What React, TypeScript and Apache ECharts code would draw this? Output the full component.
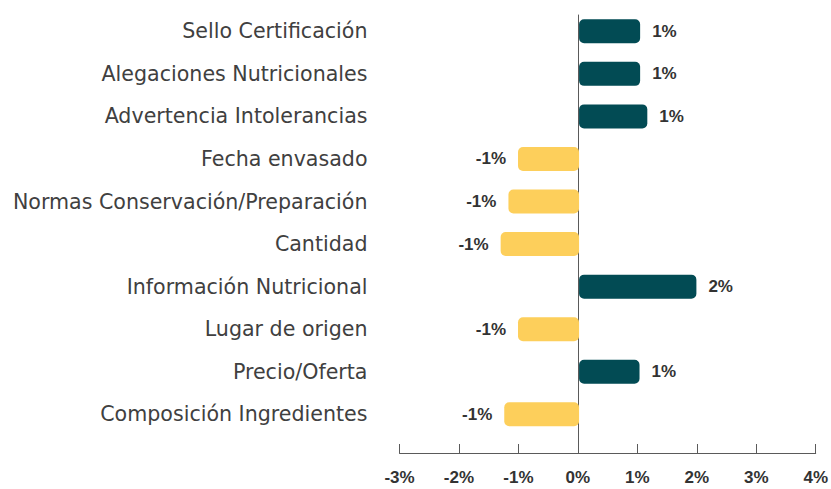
import React, { useEffect, useRef } from "react";
import * as echarts from "echarts";

const categories = [
  "Sello Certificación",
  "Alegaciones Nutricionales",
  "Advertencia Intolerancias",
  "Fecha envasado",
  "Normas Conservación/Preparación",
  "Cantidad",
  "Información Nutricional",
  "Lugar de origen",
  "Precio/Oferta",
  "Composición Ingredientes",
];
const values = [1.02, 1.02, 1.14, -1.02, -1.18, -1.31, 1.96, -1.02, 1.01, -1.25];
const xMin = -3;
const xMax = 4;
const xStep = 1;

const POS = "#024B54";
const NEG = "#FDCF5B";

export default function App() {
  const ref = useRef<HTMLDivElement>(null);
  useEffect(() => {
    if (!ref.current) return;
    const chart = echarts.init(ref.current, undefined, { renderer: "svg" });
    const left = 399.5;
    const right = 12.5;
    chart.setOption({
      animation: false,
      grid: [
        { left, right, top: 10, bottom: 53.4 },
        { left, right, top: 15, bottom: 36 },
      ],
      xAxis: [
        {
          gridIndex: 0,
          type: "value",
          min: xMin,
          max: xMax,
          interval: xStep,
          show: false,
        },
        {
          gridIndex: 1,
          type: "value",
          min: xMin,
          max: xMax,
          interval: xStep,
          axisLine: { show: true, onZero: false, lineStyle: { color: "#5a5a5a", width: 1 } },
          axisTick: { show: true, inside: true, length: 9, lineStyle: { color: "#5a5a5a" } },
          splitLine: { show: false },
          axisLabel: {
            formatter: (v: number) => `${v}%`,
            fontFamily: "Liberation Sans",
            fontWeight: "bold",
            fontSize: 17,
            color: "#333",
            margin: 16,
          },
        },
      ],
      yAxis: [
        {
          gridIndex: 0,
          type: "category",
          inverse: true,
          data: categories,
          axisLine: { show: false, onZero: false },
          axisTick: { show: false },
          splitLine: { show: false },
          axisLabel: {
            fontFamily: "DejaVu Sans",
            fontSize: 20.6,
            color: "#404040",
            margin: 32,
          },
        },
        {
          gridIndex: 1,
          type: "value",
          min: 0,
          max: 1,
          axisLine: { show: true, onZero: true, lineStyle: { color: "#5a5a5a", width: 1 } },
          axisTick: { show: false },
          axisLabel: { show: false },
          splitLine: { show: false },
        },
      ],
      series: [
        {
          type: "bar",
          xAxisIndex: 0,
          yAxisIndex: 0,
          barWidth: 24,
          data: values.map((v) => ({
            value: v,
            itemStyle: { color: v >= 0 ? POS : NEG, borderRadius: 5 },
            label: { position: v >= 0 ? "right" : "left" },
          })),
          label: {
            show: true,
            distance: 12,
            formatter: (p: any) => `${Math.round(p.value)}%`,
            fontFamily: "Liberation Sans",
            fontWeight: "bold",
            fontSize: 17,
            color: "#333",
          },
        },
      ],
    });
    return () => chart.dispose();
  }, []);
  return <div ref={ref} style={{ width: 831, height: 489, position: "absolute", left: 0, top: 0 }} />;
}
